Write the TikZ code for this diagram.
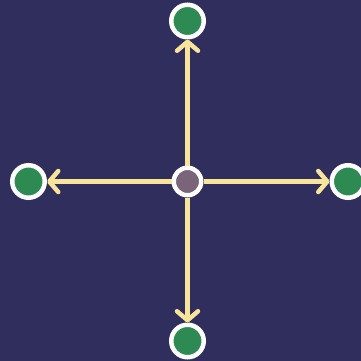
\documentclass[tikz,border=0pt]{standalone}
\usepackage{xcolor}
\usepackage{tikz}
\usetikzlibrary{arrows.meta}

\definecolor{bgnavy}{HTML}{2F2E5D}
\definecolor{hubmauve}{HTML}{7A6479}
\definecolor{leafgreen}{HTML}{2D8A52}
\definecolor{spokecream}{HTML}{F8E49A}

\tikzset{
  hub/.style={circle,draw=white,line width=4.5pt,fill=hubmauve,minimum size=27.5pt,inner sep=0pt},
  leaf/.style={circle,draw=white,line width=4.5pt,fill=leafgreen,minimum size=32.5pt,inner sep=0pt},
  spoke/.style={draw=spokecream,line width=4.5pt,-{Straight Barb[length=9pt,width=21pt,round]}}
}

\begin{document}
\begin{tikzpicture}[x=1pt,y=-1pt]
\fill[bgnavy] (0,0) rectangle (361,361);
\useasboundingbox (0,0) rectangle (361,361);
\node[hub] (c) at (187.5,181.5) {};
\node[leaf] (n) at (187.5,21) {};
\node[leaf] (w) at (28.5,181.5) {};
\node[leaf] (e) at (348,181.5) {};
\node[leaf] (s) at (187.5,341) {};
\foreach \t in {n,w,e,s} \draw[spoke] (c) -- (\t);
\end{tikzpicture}
\end{document}
